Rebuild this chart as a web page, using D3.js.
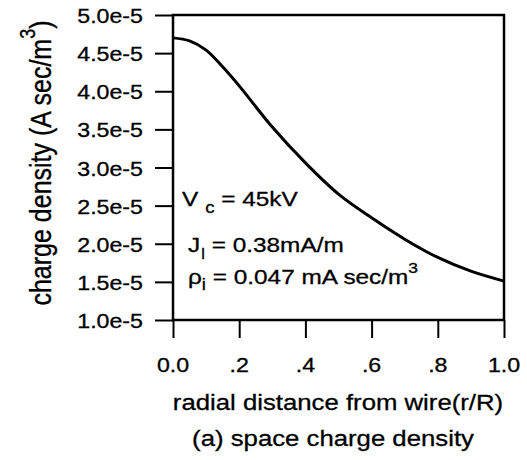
<!DOCTYPE html>
<html><head><meta charset="utf-8">
<script src="https://cdn.jsdelivr.net/npm/d3@7"></script>
<style>body{margin:0;background:#fff}svg{display:block}text{font-family:"Liberation Sans",Arial,sans-serif;fill:#000;stroke:#000;stroke-width:0.3}</style>
</head><body>
<svg id="c" width="527" height="460"></svg>
<script>
const radialPos=[0,0.05,0.1,0.15,0.2,0.3,0.4,0.5,0.6,0.7,0.8,0.9,1.0];
const chargeDensity=[4.70e-5,4.66e-5,4.54e-5,4.32e-5,4.07e-5,3.53e-5,3.06e-5,2.65e-5,2.34e-5,2.06e-5,1.82e-5,1.64e-5,1.51e-5];
const xTicks=[0,0.2,0.4,0.6,0.8,1.0];
const xTickLabels=["0.0",".2",".4",".6",".8","1.0"];
const yTicks=[1.0e-5,1.5e-5,2.0e-5,2.5e-5,3.0e-5,3.5e-5,4.0e-5,4.5e-5,5.0e-5];
const yTickLabels=["1.0e-5","1.5e-5","2.0e-5","2.5e-5","3.0e-5","3.5e-5","4.0e-5","4.5e-5","5.0e-5"];

const svg=d3.select("#c");
const L=173,R=504,T=15,B=320;
const x=d3.scaleLinear().domain([0,1]).range([L,R]);
const y=d3.scaleLinear().domain([1e-5,5e-5]).range([B,T]);

// axes
const yAxis=d3.axisLeft(y).tickValues(yTicks).tickSize(18).tickFormat(()=>"");
const gy=svg.append("g").attr("transform",`translate(${L},0)`).call(yAxis);
gy.selectAll("path").remove();
gy.selectAll("line").attr("stroke","#000").attr("stroke-width",2);
const xAxis=d3.axisBottom(x).tickValues(xTicks).tickSize(18).tickFormat(()=>"");
const gx=svg.append("g").attr("transform",`translate(0,${B})`).call(xAxis);
gx.selectAll("path").remove();
gx.selectAll("line").attr("stroke","#000").attr("stroke-width",2);

// frame
svg.append("rect").attr("x",L).attr("y",T).attr("width",R-L).attr("height",B-T)
  .attr("fill","none").attr("stroke","#000").attr("stroke-width",2.5);

function txt(px,py,anchor,size,sx,s){
  return svg.append("text").attr("transform",`translate(${px},${py}) scale(${sx},1)`)
    .attr("text-anchor",anchor).attr("font-size",size).text(s);
}
yTicks.forEach((v,i)=>txt(143,y(v)+8,"end",20,1.16,yTickLabels[i]));
xTicks.forEach((v,i)=>txt(x(v),372,"middle",20,1.16,xTickLabels[i]));
txt(338,410,"middle",22,1.17,"radial distance from wire(r/R)");
txt(333,446,"middle",22,1.17,"(a) space charge density");

// y title
const yt=svg.append("text").attr("transform","translate(51,163) scale(1.2,1) rotate(-90)")
  .attr("text-anchor","middle").attr("font-size",25);
yt.append("tspan").text("charge density (A sec/m");
yt.append("tspan").attr("font-size",18).attr("dy",-13).text("3");
yt.append("tspan").attr("dy",13).text(")");

// curve
const line=d3.line().x((d,i)=>x(radialPos[i])).y(d=>y(d)).curve(d3.curveCatmullRom.alpha(0.5));
svg.append("path").datum(chargeDensity).attr("d",line).attr("fill","none")
  .attr("stroke","#000").attr("stroke-width",3);

// annotations
const a1=svg.append("text").attr("transform","translate(182,206) scale(1.16,1)").attr("font-size",21);
a1.append("tspan").text("V");
a1.append("tspan").attr("font-size",16).attr("dx",6).attr("dy",7).text("c");
a1.append("tspan").attr("dy",-7).text(" = 45kV");
const a2=svg.append("text").attr("transform","translate(188,252) scale(1.16,1)").attr("font-size",21);
a2.append("tspan").text("J");
a2.append("tspan").attr("font-size",14).attr("dx",1).attr("dy",7).text("l");
a2.append("tspan").attr("dy",-7).text(" = 0.38mA/m");
const a3=svg.append("text").attr("transform","translate(188,284) scale(1.16,1)").attr("font-size",21);
a3.append("tspan").text("ρ");
a3.append("tspan").attr("font-size",16).attr("dy",6).text("i");
a3.append("tspan").attr("dy",-6).text(" = 0.047 mA sec/m");
a3.append("tspan").attr("font-size",15).attr("dy",-11).text("3");
</script>
</body></html>
